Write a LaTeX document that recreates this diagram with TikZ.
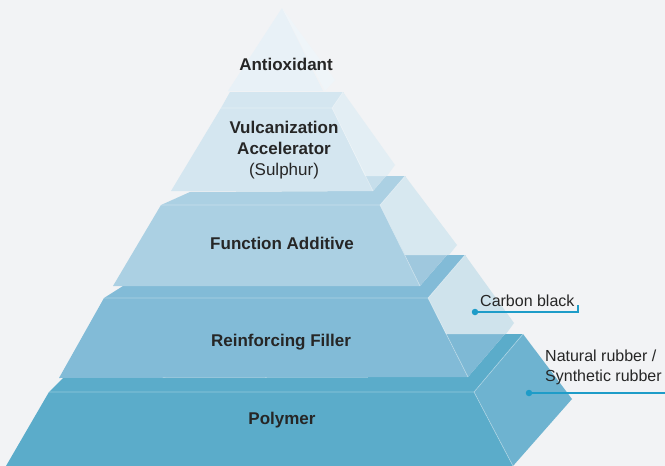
\documentclass[tikz,border=0pt]{standalone}
\usepackage{fontspec}
\setmainfont{Liberation Sans}
\usetikzlibrary{positioning}
\definecolor{bgcol}{HTML}{F2F3F5}
\definecolor{txtcol}{HTML}{262626}
\definecolor{leadcol}{HTML}{1E9CC8}
\definecolor{frontA}{HTML}{E8F1F7}
\definecolor{lightA}{HTML}{EFF5F9}
\definecolor{frontB}{HTML}{D4E6F0}
\definecolor{sideB}{HTML}{C6DEEB}
\definecolor{lightB}{HTML}{E3EEF4}
\definecolor{frontC}{HTML}{ABD0E3}
\definecolor{sideC}{HTML}{9FC8DE}
\definecolor{lightC}{HTML}{D7E8F0}
\definecolor{frontD}{HTML}{82BBD7}
\definecolor{sideD}{HTML}{7EB9D5}
\definecolor{lightD}{HTML}{CFE3EC}
\definecolor{frontE}{HTML}{5BACCA}
\definecolor{sideE}{HTML}{6EB3D0}

\begin{document}
\begin{tikzpicture}[x=1pt, y=-1pt,
    rim/.style={draw=white, draw opacity=0.35, line width=0.7pt},
    tier/.style={font=\fontsize{17}{21}\selectfont\bfseries, text=txtcol, align=center, inner sep=0pt},
    note/.style={font=\fontsize{16}{20}\selectfont, text=txtcol, align=left, inner sep=0pt},
    lead/.style={draw=leadcol, line width=1.6pt},
    pin/.style={circle, fill=leadcol, inner sep=0pt, minimum size=6.5pt}]
\fill[bgcol] (0,0) rectangle (665,466);
\useasboundingbox (0,0) rectangle (665,466);

\fill[frontE] (49,392) -- (63,378) -- (468,377) -- (505,334) -- (523,334) -- (474,392) -- cycle;
\fill[frontE] (49,392) -- (474,392) -- (513,466) -- (6,466) -- cycle;
\fill[sideE] (474,392) -- (523,334) -- (572,399) -- (513,466) -- cycle;
\draw[rim] (49,392) -- (474,392) -- (523,334) (474,392) -- (513,466);

\fill[frontD] (104,298) -- (123,286) -- (420,286) -- (447,255) -- (465,255) -- (428,298) -- cycle;
\fill[frontD] (104,298) -- (428,298) -- (468,377) -- (59,378) -- cycle;
\fill[sideD] (428,298) -- (465,255) -- (505,334) -- (468,377) -- cycle;
\fill[lightD] (428,298) -- (465,255) -- (514,323) -- (506,334) -- (446,334) -- cycle;
\draw[rim] (104,298) -- (428,298) -- (465,255) (428,298) -- (468,377);

\fill[frontC] (161,205) -- (190,192) -- (373,191) -- (386,176) -- (405,176) -- (380,205) -- cycle;
\fill[frontC] (161,205) -- (380,205) -- (420,286) -- (113,286) -- cycle;
\fill[sideC] (380,205) -- (405,176) -- (447,255) -- (420,286) -- cycle;
\fill[lightC] (380,205) -- (405,176) -- (457,245) -- (449,255) -- (405,255) -- cycle;
\draw[rim] (161,205) -- (380,205) -- (405,176) (380,205) -- (420,286);

\fill[frontB] (221,108) -- (230,92) -- (343,92) -- (332,108) -- cycle;
\fill[frontB] (221,108) -- (332,108) -- (373,191) -- (171,191) -- cycle;
\fill[sideB] (332,108) -- (343,92) -- (386,176) -- (373,191) -- cycle;
\fill[lightB] (332,108) -- (343,92) -- (395,165) -- (387,176) -- (365,176) -- cycle;
\draw[rim] (221,108) -- (332,108) -- (343,92) (332,108) -- (373,191);

\fill[frontA] (282,8) -- (323,91) -- (228,91) -- cycle;
\fill[lightA] (282,8) -- (335,80) -- (325,91) -- cycle;

\node[tier] (antiox) at (286,64) {Antioxidant};
\node[tier] (vulcan) at (284,150) {Vulcanization\\Accelerator\\{\mdseries(Sulphur)}};
\node[tier, anchor=base] (funcadd) at (282,249) {Function Additive};
\node[tier, anchor=base] (filler) at (281,346) {Reinforcing Filler};
\node[tier, anchor=base] (polymer) at (282,424) {Polymer};

\node[note, anchor=base west] (carbon) at (480,306) {Carbon black};
\node[pin] (carbonpin) at (475,312) {};
\coordinate (carbonend) at (578,305);
\draw[lead] (carbonpin.center) -| (carbonend);

\node[note, anchor=west] (rubber) at (545,367) {Natural rubber /\\Synthetic rubber};
\node[pin] (rubberpin) at (529,393) {};
\coordinate (rubberend) at (665,393);
\draw[lead] (rubberpin.center) -- (rubberend);
\end{tikzpicture}
\end{document}
